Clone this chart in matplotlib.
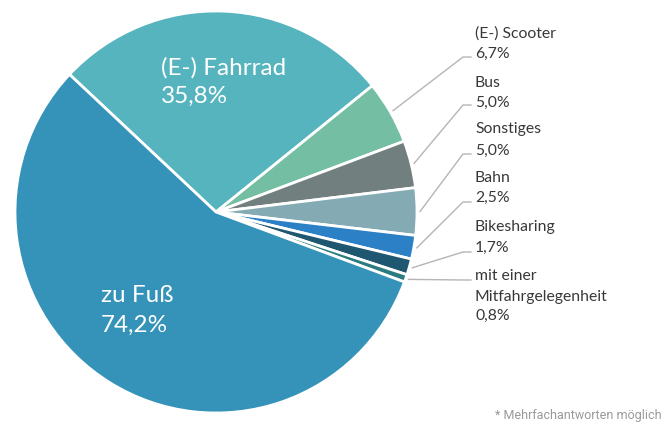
import numpy as np
import matplotlib
matplotlib.use("Agg")
import matplotlib.pyplot as plt

plt.rcParams['font.family'] = ['Lato', 'DejaVu Sans']

# data (Mehrfachantworten, Summe > 100 %)
categories = ["(E-) Fahrrad", "(E-) Scooter", "Bus", "Sonstiges", "Bahn",
              "Bikesharing", "mit einer\nMitfahrgelegenheit", "zu Fuß"]
values = [35.8, 6.7, 5.0, 5.0, 2.5, 1.7, 0.8, 74.2]
colors = ["#55b4bd", "#74bea3", "#727f7f", "#84abb3", "#2b80c6",
          "#1f5670", "#2a7c80", "#3592b8"]

W, H = 664, 423
fig = plt.figure(figsize=(W / 100, H / 100), dpi=100)
ax = fig.add_axes([0, 0, 1, 1])

cx, cy, R = 216, 211, 201
wedges, _ = ax.pie(values, colors=colors, startangle=136.8, counterclock=False,
                   center=(cx, cy), radius=R, frame=True,
                   wedgeprops=dict(edgecolor="white", linewidth=2))
ax.set_xlim(0, W)
ax.set_ylim(0, H)
ax.set_aspect('equal')
ax.axis('off')

fmt = lambda v: f"{v:.1f}%".replace(".", ",")

# big labels inside the pie
big = 17.5
ax.text(161, H - 75, categories[0], color="white", fontsize=big, va="baseline")
ax.text(161, H - 103, fmt(values[0]), color="white", fontsize=big, va="baseline")
ax.text(101, H - 302, categories[7], color="white", fontsize=big, va="baseline")
ax.text(101, H - 332, fmt(values[7]), color="white", fontsize=big, va="baseline")

# small labels on the right, baselines in px from top
name_base = [38, 87, 133, 182, 231, 280]
value_base = [58, 107, 155, 202, 252, 320]
line_y = [57, 105, 154, 202, 252, 280]
tx, elbow_x, end_x = 475, 463, 471
txt_col = "#383838"

for i, w in enumerate(wedges[1:7]):
    lines = categories[i + 1].split("\n")
    for k, ln in enumerate(lines):
        ax.text(tx, H - name_base[i] - 21 * k, ln, color=txt_col, fontsize=11.3,
                va="baseline")
    ax.text(tx, H - value_base[i], fmt(values[i + 1]), color=txt_col,
            fontsize=11.3, va="baseline")
    mid = np.deg2rad((w.theta1 + w.theta2) / 2)
    sx = cx + R * 1.015 * np.cos(mid)
    sy = cy + R * 1.015 * np.sin(mid)
    ax.plot([sx, elbow_x, end_x], [sy, H - line_y[i], H - line_y[i]],
            color="#b5b5b5", lw=1)

ax.text(662, 4, "* Mehrfachantworten möglich", color="#9a9a9a", ha="right",
        fontsize=9, va="baseline", family=["Roboto", "DejaVu Sans"])

fig.savefig("out.png", dpi=100)
